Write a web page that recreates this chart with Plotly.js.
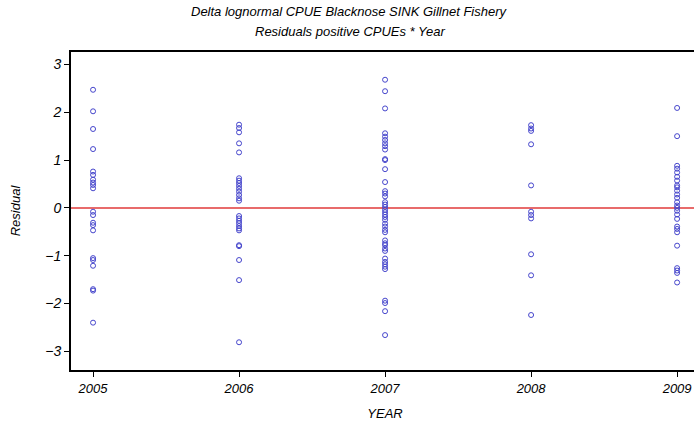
<!DOCTYPE html>
<html>
<head>
<meta charset="utf-8">
<script src="https://cdn.plot.ly/plotly-3.0.1.min.js"></script>
<style>
html,body{margin:0;padding:0;overflow:hidden;background:#fff;}
#chart{width:700px;height:427px;}
</style>
</head>
<body>
<div id="chart"></div>
<script>
const years = [2005, 2006, 2007, 2008, 2009];
const res2005 = [2.47, 2.02, 1.65, 1.23, 0.76, 0.69, 0.59, 0.53, 0.48, 0.41, -0.08, -0.15, -0.31, -0.36, -0.47, -1.05, -1.09, -1.21, -1.70, -1.73, -2.40];
const res2006 = [1.74, 1.67, 1.58, 1.35, 1.16, 0.62, 0.57, 0.52, 0.46, 0.40, 0.34, 0.27, 0.20, 0.15, -0.17, -0.22, -0.27, -0.32, -0.38, -0.43, -0.47, -0.78, -0.80, -1.09, -1.51, -2.81];
const res2007 = [2.68, 2.44, 2.08, 1.56, 1.49, 1.42, 1.35, 1.29, 1.22, 1.02, 1.00, 0.81, 0.54, 0.35, 0.30, 0.24, 0.12, 0.07, 0.02, -0.04, -0.09, -0.14, -0.19, -0.25, -0.33, -0.39, -0.46, -0.51, -0.68, -0.74, -0.78, -0.85, -0.90, -1.06, -1.13, -1.18, -1.23, -1.28, -1.94, -1.99, -2.16, -2.66];
const res2008 = [1.73, 1.66, 1.61, 1.33, 0.47, -0.08, -0.15, -0.22, -0.97, -1.41, -2.24];
const res2009 = [2.09, 1.50, 0.88, 0.82, 0.74, 0.65, 0.57, 0.47, 0.43, 0.36, 0.28, 0.21, 0.12, 0.05, 0.00, -0.06, -0.14, -0.23, -0.39, -0.44, -0.51, -0.79, -1.26, -1.31, -1.36, -1.56];
const residualsByYear = [res2005, res2006, res2007, res2008, res2009];
const yTicks = [-3, -2, -1, 0, 1, 2, 3];
const xTickLabels = ['2005', '2006', '2007', '2008', '2009'];
const titleLines = ['Delta lognormal CPUE Blacknose SINK Gillnet Fishery', 'Residuals positive CPUEs * Year'];

const xs = [], ys = [];
years.forEach((yr, i) => {
  residualsByYear[i].forEach(v => { xs.push(yr); ys.push(v); });
});

const fontFam = '"Liberation Sans Narrow", "Liberation Sans", Arial, sans-serif';
const f = (s) => ({family: fontFam, size: s, color: '#000', style: 'italic'});

const trace = {
  type: 'scatter', mode: 'markers', x: xs, y: ys,
  marker: {symbol: 'circle-open', size: 5, color: '#4545cc', line: {width: 1, color: '#4545cc'}},
  hoverinfo: 'x+y', showlegend: false
};

const layout = {
  width: 700, height: 427,
  margin: {l: 71, r: 1, t: 52, b: 57},
  paper_bgcolor: '#fff', plot_bgcolor: '#fff',
  font: f(13),
  xaxis: {
    range: [2004.849, 2009.15],
    tickvals: years, ticktext: xTickLabels,
    ticks: 'outside', ticklen: 5, tickwidth: 1, tickcolor: '#000',
    showline: true, linecolor: '#000', linewidth: 2, mirror: true,
    showgrid: false, zeroline: false,
    tickfont: f(13),
    title: {text: 'YEAR', standoff: 14, font: f(13)}
  },
  yaxis: {
    range: [-3.39, 3.26],
    tickvals: yTicks,
    ticks: 'outside', ticklen: 5, tickwidth: 1, tickcolor: '#000',
    showline: true, linecolor: '#000', linewidth: 2, mirror: true,
    showgrid: false, zeroline: false,
    tickfont: f(14),
    title: {text: 'Residual', standoff: 22, font: f(13)}
  },
  annotations: [
    {text: titleLines[0], xref: 'paper', yref: 'paper', x: 0.444, y: 1.126, xanchor: 'center', yanchor: 'middle', showarrow: false, font: f(13)},
    {text: titleLines[1], xref: 'paper', yref: 'paper', x: 0.444, y: 1.063, xanchor: 'center', yanchor: 'middle', showarrow: false, font: f(13)}
  ],
  shapes: [{
    type: 'line', xref: 'paper', x0: 0, x1: 1, yref: 'y', y0: 0, y1: 0,
    line: {color: '#e03a3a', width: 1.5}, layer: 'below'
  }]
};

Plotly.newPlot('chart', [trace], layout, {displayModeBar: false, staticPlot: true});
</script>
</body>
</html>
